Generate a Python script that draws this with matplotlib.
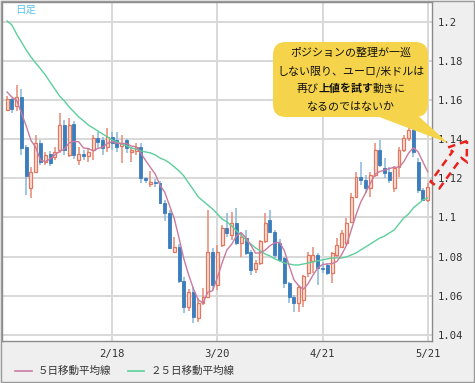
import matplotlib
matplotlib.use("Agg")
import matplotlib.pyplot as plt
import matplotlib.patches as mpatches
from matplotlib.lines import Line2D
from matplotlib.transforms import Affine2D
import numpy as np

plt.rcParams["font.family"] = ["Noto Sans CJK JP", "DejaVu Sans"]

# 日付 (取引日のみ)
dates = ["1/19", "1/20", "1/21", "1/22", "1/23", "1/26", "1/27", "1/28", "1/29", "1/30",
         "2/2", "2/3", "2/4", "2/5", "2/6", "2/9", "2/10", "2/11", "2/12", "2/13",
         "2/16", "2/17", "2/18", "2/19", "2/20", "2/23", "2/24", "2/25", "2/26", "2/27",
         "3/2", "3/3", "3/4", "3/5", "3/6", "3/9", "3/10", "3/11", "3/12", "3/13",
         "3/16", "3/17", "3/18", "3/19", "3/20", "3/23", "3/24", "3/25", "3/26", "3/27",
         "3/30", "3/31", "4/1", "4/2", "4/3", "4/6", "4/7", "4/8", "4/9", "4/10",
         "4/13", "4/14", "4/15", "4/16", "4/17", "4/20", "4/21", "4/22", "4/23", "4/24",
         "4/27", "4/28", "4/29", "4/30", "5/1", "5/4", "5/5", "5/6", "5/7", "5/8",
         "5/11", "5/12", "5/13", "5/14", "5/15", "5/18", "5/19", "5/20", "5/21"]

opens = [1.1550, 1.1606, 1.1570, 1.1616, 1.1361, 1.1151, 1.1233, 1.1381, 1.1284, 1.1325,
         1.1309, 1.1345, 1.1473, 1.1320, 1.1478, 1.1294, 1.1325, 1.1315, 1.1345, 1.1406,
         1.1396, 1.1361, 1.1412, 1.1396, 1.1366, 1.1396, 1.1335, 1.1340, 1.1361, 1.1202,
         1.1171, 1.1181, 1.1176, 1.1074, 1.1023, 1.0824, 1.0849, 1.0675, 1.0542, 1.0619,
         1.0486, 1.0563, 1.0593, 1.0824, 1.0655, 1.0860, 1.0946, 1.0910, 1.0972, 1.0870,
         1.0895, 1.0824, 1.0736, 1.0767, 1.0877, 1.0987, 1.0926, 1.0870, 1.0793, 1.0665,
         1.0593, 1.0563, 1.0578, 1.0716, 1.0778, 1.0808, 1.0742, 1.0757, 1.0716, 1.0808,
         1.0849, 1.0870, 1.0977, 1.1105, 1.1207, 1.1192, 1.1151, 1.1217, 1.1345, 1.1253,
         1.1233, 1.1151, 1.1258, 1.1345, 1.1406, 1.1448, 1.1284, 1.1141, 1.1090]
highs = [1.1620, 1.1612, 1.1675, 1.1655, 1.1370, 1.1258, 1.1422, 1.1396, 1.1335, 1.1340,
         1.1361, 1.1535, 1.1499, 1.1509, 1.1494, 1.1361, 1.1345, 1.1355, 1.1422, 1.1437,
         1.1412, 1.1458, 1.1437, 1.1437, 1.1422, 1.1400, 1.1361, 1.1381, 1.1381, 1.1207,
         1.1238, 1.1197, 1.1186, 1.1090, 1.1038, 1.0900, 1.0865, 1.0696, 1.0634, 1.0645,
         1.0588, 1.0640, 1.1038, 1.0844, 1.0860, 1.0962, 1.1023, 1.1028, 1.1048, 1.0926,
         1.0936, 1.0834, 1.0783, 1.0885, 1.1023, 1.1038, 1.0936, 1.0890, 1.0798, 1.0670,
         1.0604, 1.0655, 1.0706, 1.0824, 1.0849, 1.0818, 1.0772, 1.0767, 1.0824, 1.0895,
         1.0936, 1.0997, 1.1125, 1.1233, 1.1284, 1.1217, 1.1233, 1.1381, 1.1396, 1.1304,
         1.1258, 1.1263, 1.1361, 1.1422, 1.1467, 1.1458, 1.1304, 1.1151, 1.1176]
lows = [1.1545, 1.1535, 1.1545, 1.1320, 1.1115, 1.1100, 1.1228, 1.1269, 1.1269, 1.1265,
        1.1294, 1.1330, 1.1320, 1.1309, 1.1300, 1.1269, 1.1294, 1.1284, 1.1294, 1.1355,
        1.1320, 1.1335, 1.1345, 1.1335, 1.1279, 1.1330, 1.1284, 1.1320, 1.1176, 1.1176,
        1.1156, 1.1156, 1.1069, 1.0982, 1.0839, 1.0818, 1.0665, 1.0512, 1.0522, 1.0460,
        1.0466, 1.0553, 1.0588, 1.0629, 1.0629, 1.0850, 1.0900, 1.0885, 1.0860, 1.0798,
        1.0808, 1.0706, 1.0716, 1.0757, 1.0870, 1.0920, 1.0793, 1.0772, 1.0640, 1.0563,
        1.0517, 1.0517, 1.0542, 1.0696, 1.0716, 1.0655, 1.0716, 1.0706, 1.0665, 1.0798,
        1.0844, 1.0860, 1.0972, 1.1100, 1.1166, 1.1125, 1.1105, 1.1207, 1.1258, 1.1202,
        1.1176, 1.1130, 1.1207, 1.1335, 1.1391, 1.1309, 1.1125, 1.1084, 1.1080]
closes = [1.1606, 1.1555, 1.1616, 1.1356, 1.1210, 1.1233, 1.1381, 1.1284, 1.1320, 1.1279,
          1.1335, 1.1473, 1.1345, 1.1473, 1.1320, 1.1325, 1.1312, 1.1335, 1.1406, 1.1386,
          1.1355, 1.1412, 1.1381, 1.1361, 1.1381, 1.1355, 1.1345, 1.1361, 1.1202, 1.1192,
          1.1181, 1.1176, 1.1074, 1.1023, 1.0844, 1.0849, 1.0675, 1.0542, 1.0619, 1.0491,
          1.0563, 1.0593, 1.0824, 1.0655, 1.0824, 1.0946, 1.0920, 1.0972, 1.0870, 1.0900,
          1.0818, 1.0731, 1.0767, 1.0877, 1.0972, 1.0926, 1.0808, 1.0783, 1.0665, 1.0593,
          1.0563, 1.0645, 1.0701, 1.0808, 1.0808, 1.0742, 1.0736, 1.0716, 1.0818, 1.0860,
          1.0920, 1.0972, 1.1105, 1.1207, 1.1192, 1.1151, 1.1217, 1.1345, 1.1269, 1.1228,
          1.1192, 1.1253, 1.1345, 1.1406, 1.1448, 1.1335, 1.1141, 1.1090, 1.1156]

# 5日移動平均線
ma5 = [1.1642, 1.1616, 1.1600, 1.1535, 1.1469, 1.1394, 1.1359, 1.1293, 1.1286, 1.1299,
       1.1320, 1.1338, 1.1350, 1.1381, 1.1389, 1.1387, 1.1355, 1.1353, 1.1340, 1.1353,
       1.1359, 1.1379, 1.1388, 1.1379, 1.1378, 1.1378, 1.1365, 1.1361, 1.1329, 1.1291,
       1.1256, 1.1222, 1.1165, 1.1129, 1.1060, 1.0993, 1.0893, 1.0787, 1.0706, 1.0635,
       1.0578, 1.0562, 1.0618, 1.0625, 1.0692, 1.0768, 1.0834, 1.0863, 1.0906, 1.0922,
       1.0896, 1.0858, 1.0817, 1.0819, 1.0833, 1.0855, 1.0870, 1.0873, 1.0831, 1.0755,
       1.0682, 1.0650, 1.0633, 1.0662, 1.0705, 1.0741, 1.0759, 1.0762, 1.0764, 1.0774,
       1.0810, 1.0857, 1.0935, 1.1013, 1.1079, 1.1125, 1.1174, 1.1222, 1.1235, 1.1242,
       1.1250, 1.1257, 1.1257, 1.1285, 1.1329, 1.1357, 1.1335, 1.1284, 1.1234]
# 25日移動平均線
ma25 = [1.2005, 1.1985, 1.1939, 1.1898, 1.1857, 1.1821, 1.1790, 1.1760, 1.1729, 1.1693,
        1.1657, 1.1621, 1.1596, 1.1565, 1.1540, 1.1514, 1.1494, 1.1473, 1.1458, 1.1442,
        1.1427, 1.1412, 1.1396, 1.1386, 1.1376, 1.1366, 1.1355, 1.1350, 1.1340, 1.1335,
        1.1330, 1.1320, 1.1304, 1.1294, 1.1279, 1.1258, 1.1238, 1.1212, 1.1176, 1.1141,
        1.1105, 1.1084, 1.1064, 1.1043, 1.1018, 1.0992, 1.0977, 1.0957, 1.0931, 1.0910,
        1.0885, 1.0864, 1.0844, 1.0829, 1.0813, 1.0803, 1.0788, 1.0778, 1.0767, 1.0762,
        1.0757, 1.0757, 1.0762, 1.0767, 1.0772, 1.0778, 1.0783, 1.0788, 1.0793, 1.0793,
        1.0793, 1.0798, 1.0808, 1.0818, 1.0834, 1.0849, 1.0864, 1.0880, 1.0895, 1.0905,
        1.0921, 1.0936, 1.0967, 1.0997, 1.1018, 1.1049, 1.1069, 1.1090, 1.1100]

tick_dates = ["2/18", "3/20", "4/21", "5/21"]
y_ticks = [1.04, 1.06, 1.08, 1.1, 1.12, 1.14, 1.16, 1.18, 1.2]
y_labels = ["1.04", "1.06", "1.08", "1.1", "1.12", "1.14", "1.16", "1.18", "1.2"]

bubble_lines = ["ポジションの整理が一巡", "しない限り、ユーロ/米ドルは", None, "なるのではないか"]
line3_parts = [("再び", "normal"), ("上値を試す", "bold"), ("動きに", "normal")]
legend_labels = ["５日移動平均線", "２５日移動平均線"]

W, H = 475, 383
fig = plt.figure(figsize=(W / 100, H / 100), dpi=100, facecolor="#efefef")
# ピクセル座標 (左上原点) で描くための変換
px = Affine2D().scale(0.01, -0.01).translate(0, H / 100) + fig.dpi_scale_trans

ax = fig.add_axes([2 / W, 1 - 341 / H, 430 / W, 339 / H], facecolor="white")

x = np.arange(len(dates))
o = np.array(opens)
c = np.array(closes)
up = c >= o

red_edge, red_fill, red_wick = "#e2775f", "#fbe1d9", "#e58a74"
blue_fill, blue_wick = "#3b7dbd", "#86b6de"

ax.vlines(x[up], np.array(lows)[up], np.array(highs)[up], color=red_wick, lw=1.1, zorder=2)
ax.vlines(x[~up], np.array(lows)[~up], np.array(highs)[~up], color=blue_wick, lw=1.1, zorder=2)
body_h = np.maximum(np.abs(c - o), 0.0004)
body_b = np.minimum(o, c)
ax.bar(x[up], body_h[up], bottom=body_b[up], width=0.62, color=red_fill,
       edgecolor=red_edge, linewidth=0.9, zorder=3)
ax.bar(x[~up], body_h[~up], bottom=body_b[~up], width=0.62, color=blue_fill,
       edgecolor=blue_fill, linewidth=0.6, zorder=3)

pink, green = "#c97b9f", "#5ccf9c"
ax.plot(x, ma25, color=green, lw=1.0, zorder=4)
ax.plot(x, ma5, color=pink, lw=1.0, zorder=4)

ax.set_xlim(-1.05, 88.9)
ax.set_ylim(1.0368, 1.2102)
ax.set_yticks(y_ticks)
ax.set_yticklabels(y_labels)
ax.set_xticks([dates.index(d) for d in tick_dates])
ax.set_xticklabels(tick_dates)
ax.yaxis.tick_right()
ax.grid(color="#d8d8d8", lw=1.4)
ax.set_axisbelow(True)
ax.tick_params(length=0, labelsize=7.6, labelcolor="#333333")
ax.tick_params(axis="y", pad=4)
ax.tick_params(axis="x", pad=6)
for lab in ax.get_xticklabels() + ax.get_yticklabels():
    lab.set_fontfamily("DejaVu Sans Mono")
for s in ax.spines.values():
    s.set_color("#8a8a8a")
    s.set_linewidth(1.0)

fig.text(15, 10, "日足", transform=px, color="#5cc5ee", fontsize=7.6, va="center")

# 吹き出し
bcol = "#f5d34a"
fig.add_artist(mpatches.Polygon([(366, 112), (414, 112), (448, 143)], closed=True,
                                transform=px, fc=bcol, ec="none", zorder=5))
fig.add_artist(mpatches.FancyBboxPatch((273, 42), 155, 75, boxstyle="round,pad=0,rounding_size=13",
                                       transform=px, fc=bcol, ec="none", zorder=5))
fs = 7.9
line_y = [53, 71, 89, 107]
for ly, txt in zip(line_y, bubble_lines):
    if txt is not None:
        fig.text(351, ly, txt, transform=px, ha="center", va="center", fontsize=fs,
                 color="#111111", zorder=6)
em = fs * 100 / 72
n_chars = sum(len(t) for t, _ in line3_parts)
start = 351 - n_chars * em / 2
for t, w in line3_parts:
    fig.text(start, line_y[2], t, transform=px, ha="left", va="center", fontsize=fs,
             fontweight=w, color="#111111", zorder=6)
    start += len(t) * em

# 赤い点線の矢印
fig.add_artist(mpatches.FancyArrow(435, 185, 32, -44, width=11, head_width=24, head_length=17,
                                   length_includes_head=True, transform=px, fill=False,
                                   ec="#e8231e", lw=1.8, ls=(0, (3, 2)), zorder=7))

# 凡例
fig.add_artist(Line2D([15, 32], [371, 371], transform=px, color=pink, lw=1.2))
fig.text(38, 371, legend_labels[0], transform=px, va="center", fontsize=7.6, color="#333333")
fig.add_artist(Line2D([128, 144], [371, 371], transform=px, color=green, lw=1.2))
fig.text(151, 371, legend_labels[1], transform=px, va="center", fontsize=7.6, color="#333333")

# 外枠
fig.add_artist(mpatches.Rectangle((0.5, 0.5), 473, 381, transform=px, fill=False,
                                  ec="#9a9a9a", lw=1.0))

fig.savefig("out.png", dpi=100, facecolor=fig.get_facecolor())
